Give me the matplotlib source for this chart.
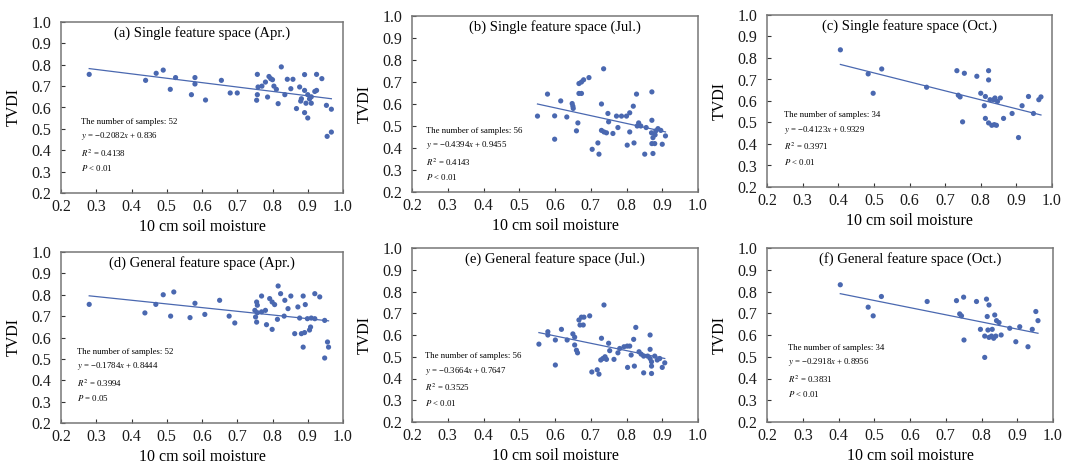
import numpy as np
import matplotlib
matplotlib.use("Agg")
import matplotlib.pyplot as plt

plt.rcParams["font.family"] = ["Liberation Serif", "DejaVu Serif"]
plt.rcParams["mathtext.fontset"] = "stix"

# ---- data ----
a_x = [0.28, 0.44, 0.47, 0.49, 0.51, 0.525, 0.57, 0.58, 0.58, 0.61, 0.655, 0.68, 0.70,
       0.757, 0.759, 0.757, 0.755, 0.786, 0.78, 0.795, 0.79, 0.804, 0.811, 0.825, 0.816,
       0.835, 0.842, 0.858, 0.852, 0.877, 0.891, 0.868, 0.891, 0.882, 0.891, 0.90, 0.90,
       0.905, 0.91, 0.895, 0.925, 0.925, 0.94, 0.953, 0.967, 0.955, 0.967, 0.77, 0.80,
       0.88, 0.91, 0.92]
a_y = [0.755, 0.727, 0.76, 0.775, 0.685, 0.74, 0.66, 0.74, 0.71, 0.635, 0.727, 0.668, 0.668,
       0.755, 0.696, 0.66, 0.634, 0.649, 0.719, 0.735, 0.745, 0.70, 0.685, 0.79, 0.618,
       0.66, 0.732, 0.732, 0.688, 0.696, 0.754, 0.595, 0.68, 0.641, 0.576, 0.551, 0.66,
       0.64, 0.62, 0.62, 0.68, 0.755, 0.735, 0.61, 0.592, 0.465, 0.485, 0.70, 0.73,
       0.63, 0.65, 0.675]

b_x = [0.551, 0.579, 0.599, 0.599, 0.616, 0.633, 0.648, 0.651, 0.664, 0.66, 0.667, 0.674,
       0.667, 0.674, 0.68, 0.695, 0.704, 0.72, 0.723, 0.73, 0.736, 0.73, 0.737, 0.744,
       0.748, 0.75, 0.762, 0.772, 0.776, 0.786, 0.80, 0.809, 0.802, 0.809, 0.819, 0.821,
       0.828, 0.834, 0.84, 0.851, 0.855, 0.871, 0.871, 0.87, 0.874, 0.871, 0.879, 0.874,
       0.882, 0.888, 0.896, 0.90, 0.909, 0.65, 0.83, 0.88]
b_y = [0.545, 0.645, 0.546, 0.44, 0.614, 0.541, 0.602, 0.58, 0.514, 0.478, 0.648, 0.648,
       0.693, 0.70, 0.71, 0.72, 0.394, 0.423, 0.372, 0.60, 0.76, 0.48, 0.473, 0.469,
       0.557, 0.519, 0.466, 0.545, 0.493, 0.545, 0.545, 0.56, 0.413, 0.473, 0.59, 0.423,
       0.645, 0.514, 0.50, 0.372, 0.493, 0.655, 0.526, 0.469, 0.447, 0.42, 0.42, 0.375,
       0.478, 0.488, 0.48, 0.417, 0.455, 0.59, 0.50, 0.46]

c_x = [0.406, 0.484, 0.498, 0.522, 0.648, 0.733, 0.754, 0.737, 0.742, 0.749, 0.789, 0.80,
       0.81, 0.822, 0.822, 0.813, 0.813, 0.822, 0.831, 0.838, 0.844, 0.826, 0.836, 0.84,
       0.847, 0.855, 0.864, 0.888, 0.906, 0.916, 0.934, 0.948, 0.963, 0.969]
c_y = [0.838, 0.726, 0.636, 0.749, 0.664, 0.741, 0.729, 0.627, 0.619, 0.503, 0.715, 0.636,
       0.578, 0.741, 0.698, 0.621, 0.519, 0.498, 0.487, 0.49, 0.487, 0.606, 0.606, 0.614,
       0.598, 0.614, 0.519, 0.542, 0.43, 0.578, 0.621, 0.542, 0.606, 0.619]

d_x = [0.28, 0.438, 0.469, 0.49, 0.511, 0.52, 0.566, 0.58, 0.608, 0.65, 0.677, 0.693,
       0.816, 0.823, 0.769, 0.755, 0.757, 0.792, 0.799, 0.806, 0.835, 0.852, 0.844, 0.872,
       0.887, 0.893, 0.92, 0.934, 0.75, 0.757, 0.769, 0.78, 0.752, 0.755, 0.783, 0.799,
       0.814, 0.833, 0.877, 0.899, 0.91, 0.92, 0.948, 0.908, 0.905, 0.863, 0.882, 0.891,
       0.887, 0.956, 0.959, 0.948]
d_y = [0.755, 0.715, 0.755, 0.80, 0.70, 0.813, 0.693, 0.76, 0.708, 0.774, 0.70, 0.668,
       0.841, 0.805, 0.794, 0.766, 0.751, 0.782, 0.766, 0.754, 0.774, 0.794, 0.735, 0.743,
       0.794, 0.754, 0.805, 0.79, 0.727, 0.716, 0.72, 0.727, 0.696, 0.672, 0.66, 0.638,
       0.685, 0.70, 0.691, 0.688, 0.691, 0.688, 0.68, 0.649, 0.635, 0.618, 0.618, 0.623,
       0.555, 0.579, 0.555, 0.504]

e_x = [0.555, 0.58, 0.601, 0.601, 0.618, 0.634, 0.65, 0.655, 0.655, 0.66, 0.663, 0.667,
       0.674, 0.681, 0.67, 0.679, 0.697, 0.703, 0.718, 0.723, 0.73, 0.737, 0.728, 0.734,
       0.744, 0.75, 0.753, 0.765, 0.776, 0.781, 0.793, 0.802, 0.809, 0.803, 0.813, 0.82,
       0.822, 0.826, 0.835, 0.841, 0.848, 0.848, 0.859, 0.866, 0.866, 0.866, 0.87, 0.87,
       0.87, 0.879, 0.886, 0.893, 0.90, 0.907, 0.58, 0.74]
e_y = [0.558, 0.615, 0.577, 0.462, 0.626, 0.577, 0.605, 0.59, 0.554, 0.53, 0.518, 0.669,
       0.682, 0.682, 0.646, 0.646, 0.688, 0.43, 0.44, 0.42, 0.585, 0.738, 0.485, 0.492,
       0.488, 0.562, 0.528, 0.488, 0.518, 0.538, 0.546, 0.549, 0.549, 0.451, 0.508, 0.58,
       0.457, 0.635, 0.523, 0.512, 0.503, 0.426, 0.503, 0.60, 0.534, 0.492, 0.477, 0.457,
       0.423, 0.503, 0.485, 0.492, 0.451, 0.472, 0.60, 0.50]

f_x = [0.405, 0.483, 0.497, 0.52, 0.648, 0.73, 0.75, 0.739, 0.744, 0.751, 0.786, 0.797,
       0.814, 0.821, 0.816, 0.809, 0.809, 0.821, 0.828, 0.834, 0.84, 0.818, 0.83, 0.837,
       0.842, 0.849, 0.855, 0.879, 0.896, 0.907, 0.93, 0.942, 0.952, 0.958]
f_y = [0.831, 0.728, 0.688, 0.777, 0.754, 0.758, 0.774, 0.697, 0.688, 0.577, 0.754, 0.626,
       0.765, 0.738, 0.685, 0.497, 0.595, 0.589, 0.595, 0.585, 0.595, 0.623, 0.626, 0.692,
       0.666, 0.657, 0.60, 0.631, 0.569, 0.638, 0.546, 0.626, 0.708, 0.666]

# fitted line ends (y at min x and max x), as drawn in the figure
line_ends = [(0.782, 0.641), (0.600, 0.473), (0.770, 0.535),
             (0.795, 0.678), (0.611, 0.492), (0.790, 0.608)]

titles = ["(a) Single feature space (Apr.)", "(b) Single feature space (Jul.)",
          "(c) Single feature space (Oct.)", "(d) General feature space (Apr.)",
          "(e) General feature space (Jul.)", "(f) General feature space (Oct.)"]
n_samples = [52, 56, 34, 52, 56, 34]
equations = ["−0.2082$x$ + 0.836", "−0.4394$x$ + 0.9455", "−0.4123$x$ + 0.9329",
             "−0.1784$x$ + 0.8444", "−0.3664$x$ + 0.7647", "−0.2918$x$ + 0.8956"]
r2 = ["0.4138", "0.4143", "0.3971", "0.3994", "0.3525", "0.3831"]
p_text = ["< 0.01", "< 0.01", "< 0.01", "= 0.05", "< 0.01", "< 0.01"]

xs = [a_x, b_x, c_x, d_x, e_x, f_x]
ys = [a_y, b_y, c_y, d_y, e_y, f_y]

# ---- layout (pixel boxes: left, top, right, bottom) ----
W, H = 1073, 465
boxes = [(61, 22, 343, 193), (412, 16, 698, 192), (767, 15, 1052, 187),
         (61, 252, 343, 423), (412, 248, 698, 422), (767, 248, 1053, 422)]
note_pos = [(0.07, 0.44), (0.05, 0.37), (0.06, 0.44),
            (0.057, 0.44), (0.045, 0.40), (0.074, 0.45)]

blue = "#4a68b0"
fig = plt.figure(figsize=(W / 100, H / 100), dpi=100)

for i in range(6):
    l, t, r, b = boxes[i]
    ax = fig.add_axes([l / W, 1 - b / H, (r - l) / W, (b - t) / H])
    ax.scatter(xs[i], ys[i], s=14, color=blue, edgecolors="none", zorder=3)
    x0, x1 = min(xs[i]), max(xs[i])
    ax.plot([x0, x1], line_ends[i], color=blue, lw=0.9, zorder=2)

    ax.set_xlim(0.2, 1.0)
    ax.set_ylim(0.2, 1.0)
    ticks = np.round(np.arange(0.2, 1.01, 0.1), 1)
    ax.set_xticks(ticks)
    ax.set_yticks(ticks)
    ax.set_xticklabels([f"{v:.1f}" for v in ticks])
    ax.set_yticklabels([f"{v:.1f}" for v in ticks])
    ax.tick_params(direction="in", length=3, width=0.8, labelsize=11.5,
                   colors="#333333", labelcolor="#1a1a1a")
    ax.tick_params(axis="y", pad=7)
    ax.tick_params(axis="x", pad=4)
    for sp in ax.spines.values():
        sp.set_color("#777777")
        sp.set_linewidth(1.1)

    ax.set_xlabel("10 cm soil moisture", fontsize=11.5, labelpad=3)
    ax.set_ylabel("TVDI", fontsize=11.5, labelpad=7)
    ax.text(0.5, 0.935, titles[i], transform=ax.transAxes, ha="center", va="center",
            fontsize=10.5)

    nx, ny = note_pos[i]
    note = (f"The number of samples: {n_samples[i]}\n"
            f"$y$ = {equations[i]}\n"
            f"$R^2$ = {r2[i]}\n"
            f"$P$ {p_text[i]}")
    ax.text(nx, ny, note, transform=ax.transAxes, ha="left", va="top",
            fontsize=6.3, linespacing=1.55)

fig.savefig("out.png", dpi=100)
